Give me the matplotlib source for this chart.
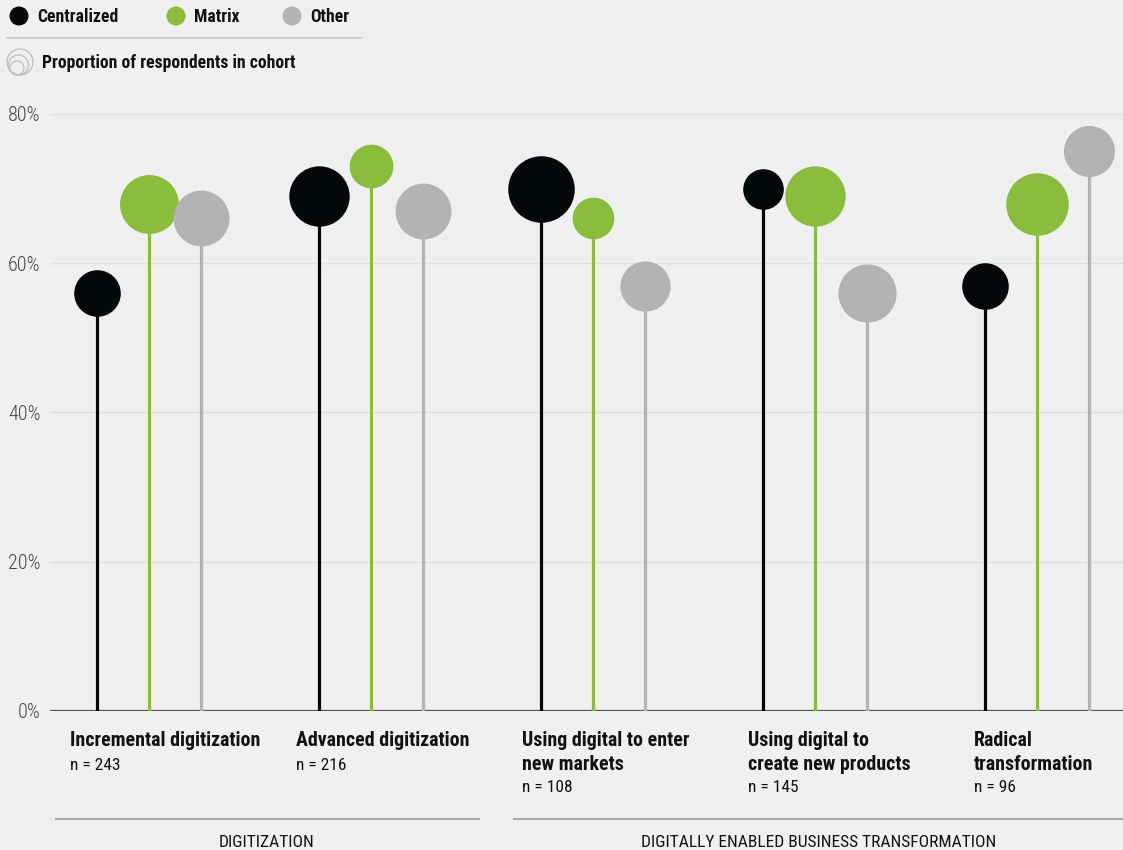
import numpy as np
import matplotlib.pyplot as plt
import matplotlib.font_manager as fm
from matplotlib.patches import Circle

# look for a narrow sans face; fall back to Roboto if there is none
FONT, STRETCH, SCALE = 'Roboto', 'normal', 0.86
prefs = ['Roboto', 'Liberation Sans', 'Noto Sans', 'Open Sans', 'DejaVu Sans', 'Lato']
found = []
for f in fm.fontManager.ttflist:
    nm = f.name
    if any(b in nm for b in ('Mono', 'Serif', 'CJK', 'Math')):
        continue
    narrow_name = 'Condensed' in nm or 'Narrow' in nm
    narrow_str = str(f.stretch) in ('condensed', 'semi-condensed', 'extra-condensed')
    if (narrow_name or narrow_str) and any(nm.startswith(p) for p in prefs):
        rank = [i for i, p in enumerate(prefs) if nm.startswith(p)][0]
        found.append((rank, nm, 'normal' if narrow_name else str(f.stretch)))
if found:
    found.sort()
    _, FONT, STRETCH = found[0]
    SCALE = 1.0

plt.rcParams['font.family'] = [FONT, 'DejaVu Sans']
plt.rcParams['font.stretch'] = STRETCH

categories = ["Incremental digitization", "Advanced digitization",
              "Using digital to enter\nnew markets",
              "Using digital to\ncreate new products",
              "Radical\ntransformation"]
n_values = [243, 216, 108, 145, 96]
centralized = [56, 69, 70, 70, 57]
matrix = [68, 73, 66, 69, 68]
other = [66, 67, 57, 56, 75]
# share of cohort (%), drives bubble area
centralized_share = [25, 42, 51, 19, 25]
matrix_share = [40, 22, 20, 42, 45]
other_share = [36, 36, 29, 39, 30]
yticks = [0, 20, 40, 60, 80]

BG = '#f0f0f0'
BLACK = '#030808'
GREEN = '#8abd3c'
GRAY = '#b3b3b3'
TXT = '#111111'

W, H = 1123, 850
fig = plt.figure(figsize=(W / 100, H / 100), dpi=100, facecolor=BG)
ax = fig.add_axes([50 / W, 139 / H, 1073 / W, 597 / H], facecolor=BG)

x = np.arange(len(categories))
off = 0.236
series = [(centralized, centralized_share, BLACK, -off),
          (matrix, matrix_share, GREEN, 0),
          (other, other_share, GRAY, off)]
for i in range(len(categories)):
    for vals, share, col, dx in series:
        ax.vlines(x[i] + dx, 0, vals[i], color=col, lw=2.3, zorder=2)
        ax.scatter(x[i] + dx, vals[i], s=share[i] * 45, color=col,
                   zorder=3, clip_on=False, linewidths=0)

ax.set_xlim(-0.446, 4.387)
ax.set_ylim(0, 80)
ax.set_yticks(yticks)
ax.set_yticklabels([f"{t}%" for t in yticks], fontsize=14.5 * SCALE,
                   color='#444444', fontweight='light')
ax.tick_params(axis='y', length=0, pad=7)
ax.set_xticks([])
for s in ax.spines.values():
    s.set_visible(False)
for t in yticks[1:]:
    ax.axhline(t, color='#e0e0e0', lw=1, zorder=0)
ax.axhline(0, color='#555555', lw=1.6, zorder=1)

# category labels
label_x = [70, 296, 522, 748, 974]
for lx, cat, n in zip(label_x, categories, n_values):
    fig.text(lx / W, 1 - 731 / H, cat, fontsize=14.3 * SCALE, fontweight='bold',
             color=TXT, va='top', ha='left', linespacing=1.3)
    nl = cat.count('\n')
    fig.text(lx / W, 1 - (770 + 22 * nl) / H, f"n = {n}",
             fontsize=12.5 * SCALE, color=TXT, va='baseline', ha='left')

# overlay in pixel coordinates for legend and group brackets
lax = fig.add_axes([0, 0, 1, 1], facecolor='none')
lax.set_xlim(0, W)
lax.set_ylim(H, 0)
lax.axis('off')

lax.plot([56, 479], [819, 819], color='#aaaaaa', lw=1.5)
lax.plot([514, W], [819, 819], color='#aaaaaa', lw=1.5)
lax.text(267, 847, "DIGITIZATION", fontsize=12.5 * SCALE, color=TXT,
         ha='center', va='baseline')
lax.text(819, 847, "DIGITALLY ENABLED BUSINESS TRANSFORMATION",
         fontsize=12.5 * SCALE, color=TXT, ha='center', va='baseline')

# legend
for cx, col, lab in [(19, BLACK, "Centralized"), (176, GREEN, "Matrix"),
                     (292, GRAY, "Other")]:
    lax.add_patch(Circle((cx, 16), 9.5, color=col, lw=0))
    lax.text(cx + 18, 22, lab, fontsize=12.7 * SCALE, fontweight='bold',
             color=TXT, va='baseline', ha='left')
lax.plot([7, 362], [38, 38], color='#c8c8c8', lw=1.2)
for r, cx in [(13, 20), (10, 18.5), (7, 17)]:
    lax.add_patch(Circle((cx, 75 - r), r, fill=False, ec='#bdbdbd', lw=0.9))
lax.text(42, 68, "Proportion of respondents in cohort", fontsize=12.7 * SCALE,
         fontweight='bold', color=TXT, va='baseline', ha='left')

fig.savefig('out.png', dpi=100, facecolor=BG)
